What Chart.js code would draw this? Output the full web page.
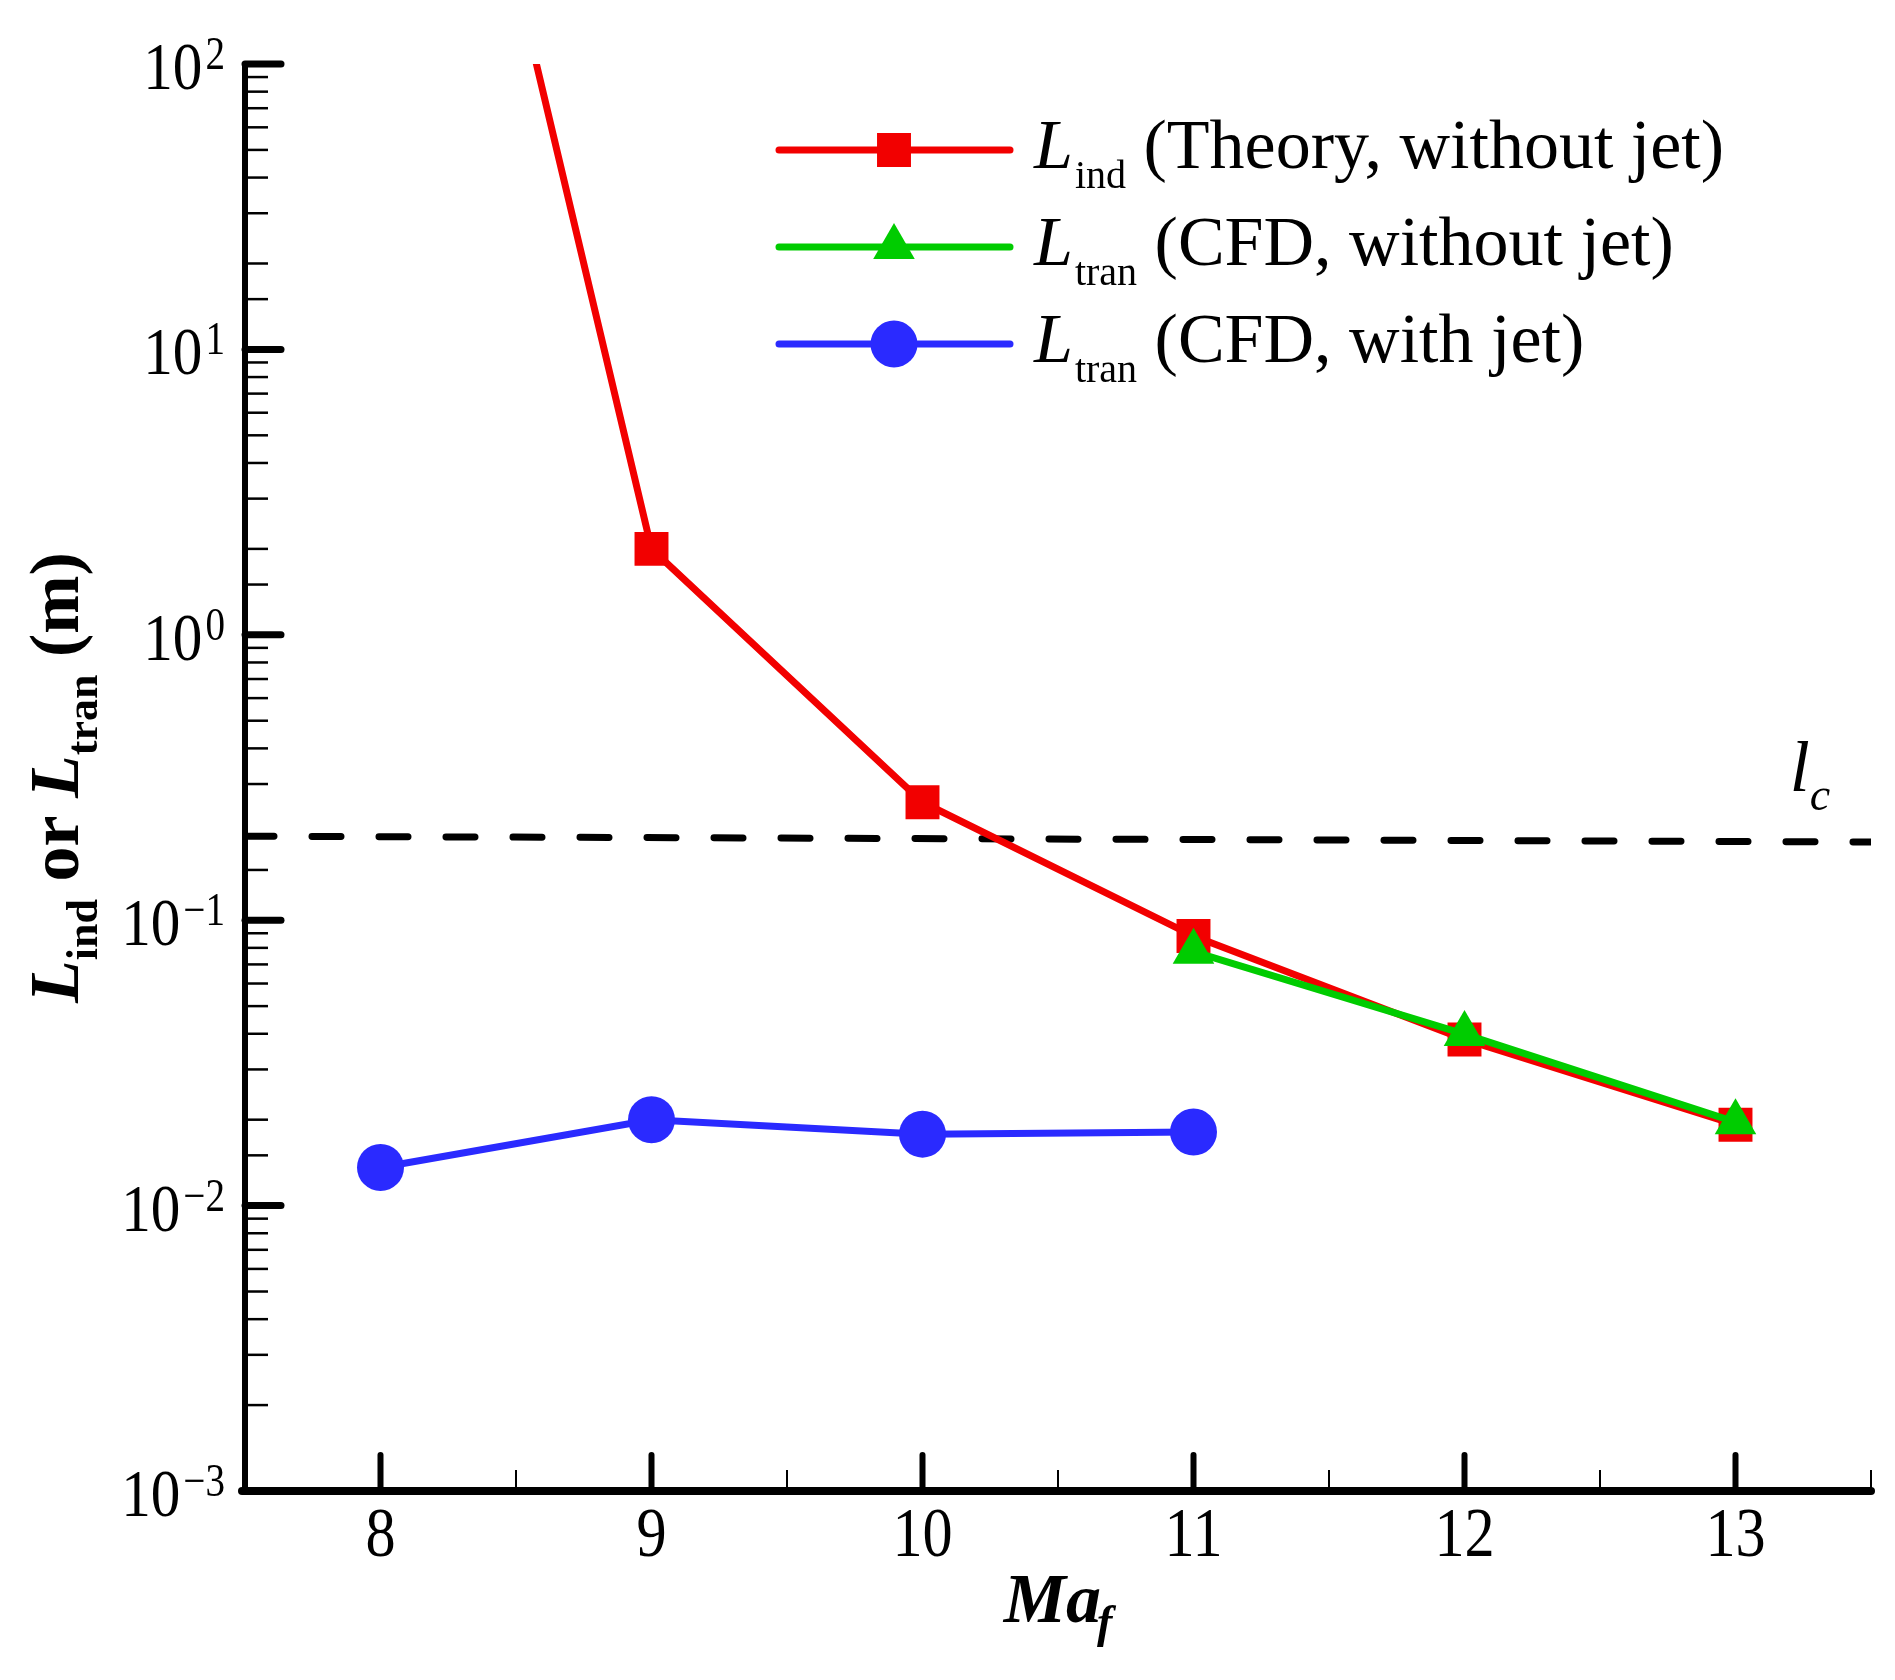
<!DOCTYPE html>
<html>
<head>
<meta charset="utf-8">
<script src="https://cdn.jsdelivr.net/npm/chart.js@4.4.1/dist/chart.umd.min.js"></script>
<style>
  html, body { margin: 0; padding: 0; background: #ffffff; }
  #wrap { width: 1895px; height: 1680px; position: relative; }
</style>
</head>
<body>
<div id="wrap"><canvas id="c" width="1895" height="1680"></canvas></div>
<script>
// ---------------- data ----------------
const maTheory   = [8, 9, 10, 11, 12, 13];
const lIndTheory = [20000, 2.0, 0.259, 0.088, 0.0382, 0.0192];

const maCfdNoJet = [11, 12, 13];
const lTranNoJet = [0.0776, 0.0399, 0.0196];

const maCfdJet   = [8, 9, 10, 11];
const lTranJet   = [0.0136, 0.0200, 0.0178, 0.0181];

const lcMa = [7.5, 13.5];
const lcVal = [0.197, 0.188];

const xTickLabels = ['8', '9', '10', '11', '12', '13'];
const xTickValues = [8, 9, 10, 11, 12, 13];
const yTickValues = [100, 10, 1, 0.1, 0.01, 0.001];
const yTickExponents = ['2', '1', '0', '\u22121', '\u22122', '\u22123'];

const legendMain = ['L', 'L', 'L'];
const legendSub  = ['ind', 'tran', 'tran'];
const legendRest = [' (Theory, without jet)', ' (CFD, without jet)', ' (CFD, with jet)'];

const RED = '#f20000', GREEN = '#00cc00', BLUE = '#2a2aff';
const SERIF = '"Liberation Serif", "Times New Roman", serif';

function pts(xs, ys) { return xs.map((v, i) => ({ x: v, y: ys[i] })); }

// ---------------- text helpers ----------------
function segWidth(ctx, s) {
  ctx.font = s.f;
  return ctx.measureText(s.t).width * (s.sx || 1) + (s.gap || 0);
}
function drawRich(ctx, segs, x, y, align) {
  let total = 0;
  segs.forEach(s => total += segWidth(ctx, s));
  let cx = x;
  if (align === 'center') cx = x - total / 2;
  else if (align === 'right') cx = x - total;
  segs.forEach(s => {
    ctx.save();
    ctx.font = s.f;
    ctx.translate(cx + (s.gap || 0), y + (s.dy || 0));
    ctx.scale(s.sx || 1, 1);
    ctx.textAlign = 'left';
    ctx.textBaseline = 'alphabetic';
    ctx.fillText(s.t, 0, 0);
    ctx.restore();
    cx += segWidth(ctx, s);
  });
}

// ---------------- custom drawing plugin ----------------
const decor = {
  id: 'decor',
  afterDatasetsDraw(chart) {
    const { ctx, chartArea: a, scales: { x, y } } = chart;
    ctx.save();
    ctx.strokeStyle = '#000';
    ctx.fillStyle = '#000';

    // y ticks (inward)
    y.ticks.forEach(t => {
      const lg = Math.log10(t.value);
      const major = Math.abs(lg - Math.round(lg)) < 1e-6;
      const py = y.getPixelForValue(t.value);
      ctx.lineWidth = major ? 7 : 2.5;
      ctx.lineCap = major ? 'round' : 'butt';
      ctx.beginPath();
      ctx.moveTo(a.left, py);
      ctx.lineTo(a.left + (major ? 36 : 23), py);
      ctx.stroke();
    });
    // x ticks (inward)
    x.ticks.forEach(t => {
      const major = Math.abs(t.value - Math.round(t.value)) < 1e-6;
      const px = x.getPixelForValue(t.value);
      ctx.lineWidth = major ? 6 : 2;
      ctx.lineCap = major ? 'round' : 'butt';
      ctx.beginPath();
      ctx.moveTo(px, a.bottom);
      ctx.lineTo(px, a.bottom - (major ? 36 : 21));
      ctx.stroke();
    });

    // axis lines
    ctx.lineCap = 'butt';
    ctx.lineWidth = 6;
    ctx.beginPath();
    ctx.moveTo(a.left, a.top - 1);
    ctx.lineTo(a.left, a.bottom + 4);
    ctx.stroke();
    ctx.lineWidth = 8;
    ctx.lineCap = 'round';
    ctx.beginPath();
    ctx.moveTo(a.left - 3, a.bottom);
    ctx.lineTo(a.right, a.bottom);
    ctx.stroke();

    // y tick labels 10^n
    yTickValues.forEach((v, i) => {
      const py = y.getPixelForValue(v);
      drawRich(ctx, [
        { t: '10', f: '68px ' + SERIF, sx: 0.87 },
        { t: yTickExponents[i], f: '46px ' + SERIF, sx: 0.85, dy: -20, gap: 3 }
      ], a.left - 20, py + 25, 'right');
    });

    // x tick labels
    xTickValues.forEach((v, i) => {
      const px = x.getPixelForValue(v);
      drawRich(ctx, [{ t: xTickLabels[i], f: '70px ' + SERIF, sx: 0.86 }], px, a.bottom + 65, 'center');
    });

    // x title Ma_f
    drawRich(ctx, [
      { t: 'Ma', f: 'bold italic 70px ' + SERIF },
      { t: 'f', f: 'bold italic 46px ' + SERIF, dy: 15, gap: -4 }
    ], (a.left + a.right) / 2, a.bottom + 131, 'center');

    // y title (rotated)
    ctx.save();
    ctx.translate(78, (a.top + a.bottom) / 2);
    ctx.rotate(-Math.PI / 2);
    drawRich(ctx, [
      { t: 'L', f: 'bold italic 70px ' + SERIF },
      { t: 'ind', f: 'bold 44px ' + SERIF, dy: 19 },
      { t: ' or ', f: 'bold 70px ' + SERIF },
      { t: 'L', f: 'bold italic 70px ' + SERIF },
      { t: 'tran', f: 'bold 44px ' + SERIF, dy: 19 },
      { t: ' (m)', f: 'bold 70px ' + SERIF }
    ], 0, 0, 'center');
    ctx.restore();

    // l_c label near the dashed line end
    const lx = x.getPixelForValue(13.2);
    const ly = y.getPixelForValue(lcVal[1]);
    drawRich(ctx, [
      { t: 'l', f: 'italic 72px ' + SERIF },
      { t: 'c', f: 'italic 46px ' + SERIF, dy: 19, gap: 0 }
    ], lx, ly - 51, 'left');

    // legend
    const styles = [
      { c: RED, ps: 'rect', r: 24 },
      { c: GREEN, ps: 'triangle', r: 24 },
      { c: BLUE, ps: 'circle', r: 23.5 }
    ];
    const ly0 = [150, 247, 344];
    styles.forEach((s, i) => {
      const yy = ly0[i];
      ctx.strokeStyle = s.c;
      ctx.lineWidth = 7;
      ctx.lineCap = 'round';
      ctx.beginPath();
      ctx.moveTo(779, yy);
      ctx.lineTo(1010, yy);
      ctx.stroke();
      ctx.fillStyle = s.c;
      Chart.helpers.drawPoint(ctx, { pointStyle: s.ps, radius: s.r, borderWidth: 0, rotation: 0 }, 894, yy);
      ctx.fillStyle = '#000';
      drawRich(ctx, [
        { t: legendMain[i], f: 'italic 70px ' + SERIF },
        { t: legendSub[i], f: '40px ' + SERIF, dy: 20, gap: 2 },
        { t: legendRest[i], f: '70px ' + SERIF }
      ], 1034, yy + 18, 'left');
    });

    ctx.restore();
  }
};

// ---------------- chart ----------------
new Chart(document.getElementById('c'), {
  type: 'line',
  data: {
    datasets: [
      {
        label: 'L_tran (CFD, without jet)',
        data: pts(maCfdNoJet, lTranNoJet),
        borderColor: GREEN, backgroundColor: GREEN,
        borderWidth: 7, pointStyle: 'triangle', pointRadius: 24, pointBorderWidth: 0,
        pointHoverRadius: 24, order: 0
      },
      {
        label: 'L_ind (Theory, without jet)',
        data: pts(maTheory, lIndTheory),
        borderColor: RED, backgroundColor: RED,
        borderWidth: 7, pointStyle: 'rect', pointRadius: 24, pointBorderWidth: 0,
        pointHoverRadius: 24, order: 1
      },
      {
        label: 'L_tran (CFD, with jet)',
        data: pts(maCfdJet, lTranJet),
        borderColor: BLUE, backgroundColor: BLUE,
        borderWidth: 7, pointStyle: 'circle', pointRadius: 23.5, pointBorderWidth: 0,
        pointHoverRadius: 23.5, order: 2
      },
      {
        label: 'l_c',
        data: pts(lcMa, lcVal),
        borderColor: '#000', backgroundColor: '#000',
        borderWidth: 7, borderDash: [29, 38], borderCapStyle: 'round',
        pointRadius: 0, order: 3
      }
    ]
  },
  options: {
    responsive: false,
    maintainAspectRatio: false,
    devicePixelRatio: 1,
    animation: false,
    events: [],
    layout: { padding: { top: 64, right: 21, left: 0, bottom: 0 } },
    plugins: { legend: { display: false }, tooltip: { enabled: false }, title: { display: false } },
    scales: {
      x: {
        type: 'linear', min: 7.5, max: 13.5,
        ticks: { display: false, stepSize: 0.5 },
        grid: { display: false }, border: { display: false },
        afterFit(s) { s.height = 189; }
      },
      y: {
        type: 'logarithmic', min: 0.001, max: 100,
        ticks: { display: false },
        grid: { display: false }, border: { display: false },
        afterFit(s) { s.width = 245; }
      }
    }
  },
  plugins: [decor]
});
</script>
</body>
</html>
